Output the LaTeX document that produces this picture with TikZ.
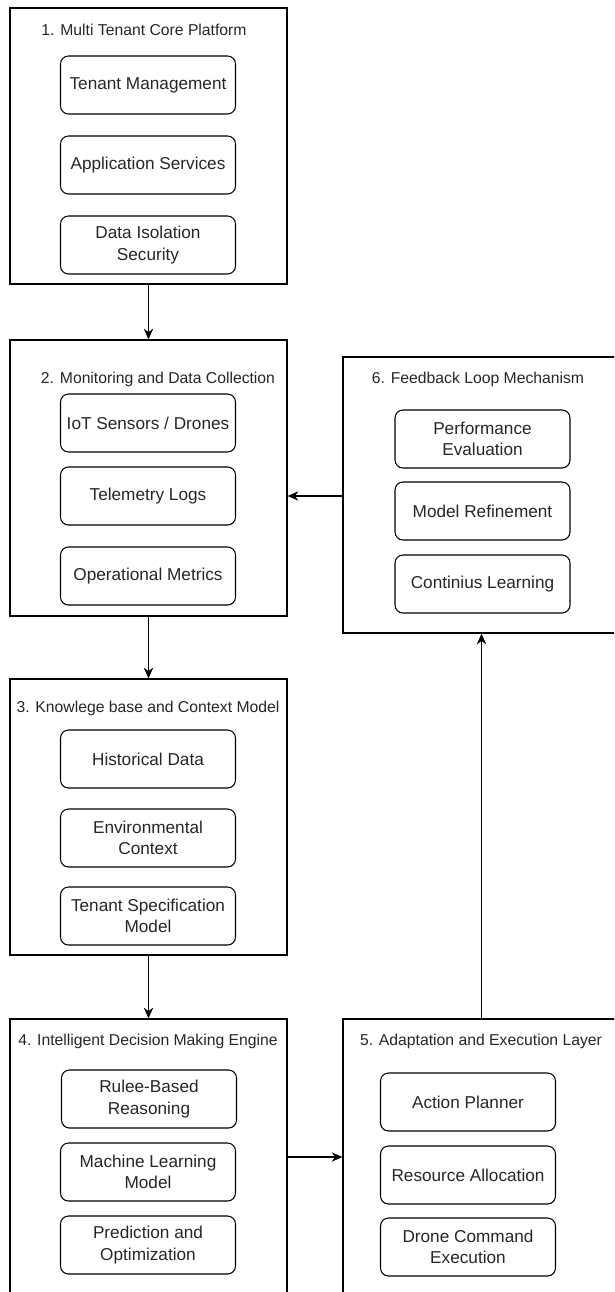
\documentclass[tikz,border=0pt]{standalone}
\usepackage{fontspec}
\setmainfont{Liberation Sans}
\usetikzlibrary{positioning,arrows.meta}

\begin{document}
\begin{tikzpicture}[x=0.75pt, y=-0.75pt, align=center,
    >={Stealth[length=8pt, width=7pt, inset=2.5pt]},
    stage/.style={draw, line width=0.9pt, minimum width=207.75pt, minimum height=207pt, inner sep=0pt},
    stage title/.style={font=\fontsize{11.8}{14}\selectfont, text=black!85},
    component/.style={draw, line width=0.8pt, rounded corners=6pt, minimum width=131.25pt, minimum height=43.5pt, inner sep=2pt, font=\fontsize{12.9}{16}\selectfont, text=black!85}]

    \useasboundingbox (0,0) rectangle (614,1292);
    \clip (0,0) rectangle (614,1292);

    % Stages
    \node [stage] (platform) at (148.5,146) {};
    \node [stage] (monitoring) at (148.5,478) {};
    \node [stage] (knowledge) at (148.5,817) {};
    \node [stage] (decision) at (148.5,1157) {};
    \node [stage] (adaptation) at (481.5,1157) {};
    \node [stage] (feedback) at (481.5,495) {};

    \node [stage title] (platform_title) at (144,30) {1. Multi Tenant Core Platform};
    \node [stage title] (monitoring_title) at (158,379) {2. Monitoring and Data Collection};
    \node [stage title] (knowledge_title) at (148,708) {3. Knowlege base and Context Model};
    \node [stage title] (decision_title) at (148,1041) {4. Intelligent Decision Making Engine};
    \node [stage title] (adaptation_title) at (481,1041) {5. Adaptation and Execution Layer};
    \node [stage title] (feedback_title) at (478,379) {6. Feedback Loop Mechanism};

    % Components
    \node [component] (tenant_mgmt) at (148,85) {Tenant Management};
    \node [component] (app_services) at (148,165) {Application Services};
    \node [component] (data_isolation) at (148,245) {Data Isolation\\Security};

    \node [component] (iot_sensors) at (148,423) {IoT Sensors / Drones};
    \node [component] (telemetry) at (148,496) {Telemetry Logs};
    \node [component] (op_metrics) at (148,576) {Operational Metrics};

    \node [component] (historical) at (148,759) {Historical Data};
    \node [component] (environment) at (148,838) {Environmental\\Context};
    \node [component] (tenant_spec) at (148,916) {Tenant Specification\\Model};

    \node [component] (rule_based) at (149,1099) {Rulee-Based\\Reasoning};
    \node [component] (ml_model) at (148,1172) {Machine Learning\\Model};
    \node [component] (prediction) at (148,1245) {Prediction and\\Optimization};

    \node [component] (action_planner) at (468,1102) {Action Planner};
    \node [component] (resource_alloc) at (468,1175) {Resource Allocation};
    \node [component] (drone_cmd) at (468,1247) {Drone Command\\Execution};

    \node [component] (performance) at (482.5,439) {Performance\\Evaluation};
    \node [component] (refinement) at (482.5,511) {Model Refinement};
    \node [component] (learning) at (482.5,584) {Continius Learning};

    % Flow
    \draw[->, line width=0.9pt] (platform) -- (monitoring);
    \draw[->, line width=0.9pt] (monitoring) -- (knowledge);
    \draw[->, line width=0.9pt] (knowledge) -- (decision);
    \draw[->, line width=0.9pt] (decision) -- (adaptation);
    \draw[->, line width=0.9pt] (adaptation) -- (feedback);
    \draw[->, line width=0.9pt] ([yshift=-0.75pt]feedback.west) -- ([yshift=-0.75pt]feedback.west -| monitoring.east);

\end{tikzpicture}
\end{document}
